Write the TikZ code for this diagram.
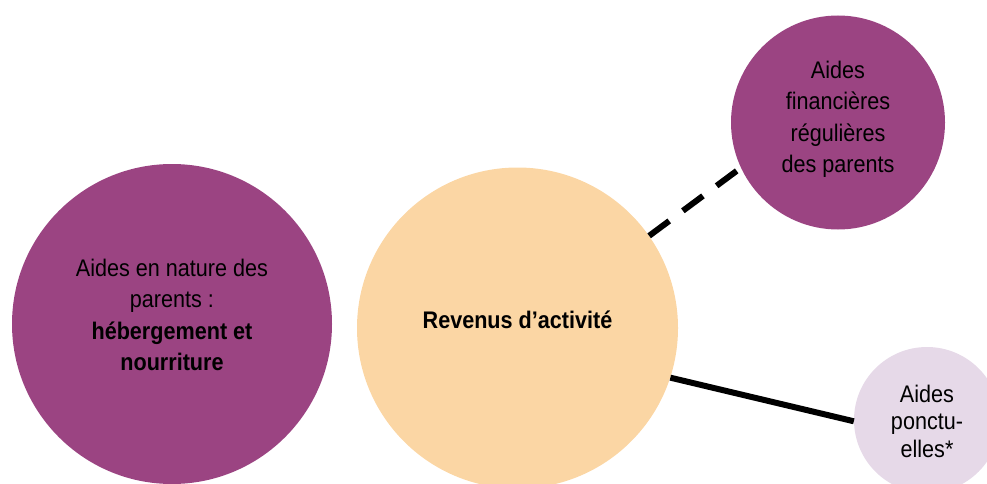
\documentclass[tikz,border=0pt]{standalone}
\usepackage{fontspec}
\setmainfont{Liberation Sans}[FakeStretch=0.9]
\definecolor{plum}{HTML}{9B4482}
\definecolor{peach}{HTML}{FBD6A4}
\definecolor{lilac}{HTML}{E6D9E8}
\tikzset{
  bubble/.style={circle, inner sep=0pt, align=center, text=black,
    font=\fontsize{24}{31.5}\selectfont},
  link/.style={line width=6pt, black},
}
\begin{document}
\begin{tikzpicture}[x=1pt,y=-1pt]
\useasboundingbox (0,0) rectangle (987,484);
\begin{scope}
\clip (0,0) rectangle (987,484);
\node[bubble, fill=plum, minimum size=320pt] (nature) at (172,324) {};
\node[bubble, fill=peach, minimum size=321pt] (revenus) at (517.5,328) {};
\node[bubble, fill=plum, minimum size=214pt] (fin) at (838,122.5) {};
\node[bubble, fill=lilac, minimum size=146pt] (ponct) at (927,420) {};
\node[bubble] (tnature) at (172,315)
  {Aides en nature des\\parents :\\\textbf{hébergement et}\\\textbf{nourriture}};
\node[bubble] (trevenus) at (517.5,320) {\textbf{Revenus d’activité}};
\node[bubble] (tfin) at (838,119.5) {Aides\\financières\\régulières\\des parents};
\node[bubble, font=\fontsize{24}{27.5}\selectfont] (tponct) at (927,421)
  {Aides\\ponctu-\\elles*};
\draw[link, dash pattern=on 25pt off 17pt] (revenus.35) -- (fin.205);
\draw[link] (revenus.342) -- (ponct.181);
\end{scope}
\end{tikzpicture}
\end{document}
